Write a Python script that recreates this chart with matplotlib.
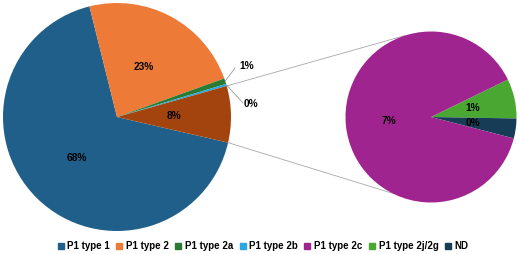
import numpy as np
import matplotlib
matplotlib.use("Agg")
import matplotlib.pyplot as plt
from matplotlib.lines import Line2D

# shares of all samples (%)
main_labels = ["P1 type 1", "P1 type 2", "P1 type 2a", "P1 type 2b"]
main_values = [67.5, 23.4, 0.8, 0.3]
sub_labels = ["P1 type 2j/2g", "ND", "P1 type 2c"]
sub_values = [0.6, 0.3, 7.1]
legend_order = ["P1 type 1", "P1 type 2", "P1 type 2a", "P1 type 2b",
                "P1 type 2c", "P1 type 2j/2g", "ND"]

colors = {"P1 type 1": "#1f5f8a", "P1 type 2": "#ee7a38", "P1 type 2a": "#2a7a33",
          "P1 type 2b": "#2aa7df", "P1 type 2c": "#a0248f", "P1 type 2j/2g": "#4aa832",
          "ND": "#163c56", "other": "#a3440f"}

plt.rcParams["font.family"] = ["Liberation Sans", "DejaVu Sans"]
W, H = 520, 254
fig = plt.figure(figsize=(W / 100, H / 100), dpi=100)
ax = fig.add_axes([0, 0, 1, 1])

c1, r1 = (117, H - 117), 114
c2, r2 = (431, H - 117), 85.5
total = sum(main_values) + sum(sub_values)
pct = lambda v: f"{v / total * 100:.0f}%"
txt = dict(fontsize=7.3, fontweight="bold", color="black")

vals1 = main_values + [sum(sub_values)]
cols1 = [colors[k] for k in main_labels] + [colors["other"]]
w1, _ = ax.pie(vals1, colors=cols1, center=c1, radius=r1, startangle=-13,
               counterclock=False, frame=True)
for i in (0, 1, 4):
    w = w1[i]
    mid = np.deg2rad((w.theta1 + w.theta2) / 2)
    ax.text(c1[0] + 0.5 * r1 * np.cos(mid), c1[1] + 0.5 * r1 * np.sin(mid), pct(vals1[i]),
            ha="center", va="center", **txt)

# leader labels for the tiny slices
small = [(2, (235, H - 68), (239, H - 66)), (3, (243, H - 103), (244, H - 104))]
for i, kink, tpos in small:
    w = w1[i]
    mid = np.deg2rad((w.theta1 + w.theta2) / 2)
    p = (c1[0] + r1 * np.cos(mid), c1[1] + r1 * np.sin(mid))
    ax.plot([p[0], kink[0]], [p[1], kink[1]], color="#9a9a9a", lw=0.6)
    ax.text(tpos[0], tpos[1], pct(vals1[i]), ha="left", va="center", **txt)

w2, _ = ax.pie(sub_values, colors=[colors[k] for k in sub_labels], center=c2,
               radius=r2, startangle=26, counterclock=False, frame=True)
for w, v in zip(w2, sub_values):
    mid = np.deg2rad((w.theta1 + w.theta2) / 2)
    ax.text(c2[0] + 0.5 * r2 * np.cos(mid), c2[1] + 0.5 * r2 * np.sin(mid), pct(v),
            ha="center", va="center", **txt)
ax.set_xlim(0, W); ax.set_ylim(0, H)
ax.set_aspect("equal"); ax.axis("off")

# connector lines from the "other" slice to the second pie
ow = w1[4]
for a1, a2 in [(ow.theta2, 108), (ow.theta1, 243)]:
    p1 = (c1[0] + r1 * np.cos(np.deg2rad(a1)), c1[1] + r1 * np.sin(np.deg2rad(a1)))
    p2 = (c2[0] + r2 * np.cos(np.deg2rad(a2)), c2[1] + r2 * np.sin(np.deg2rad(a2)))
    ax.plot([p1[0], p2[0]], [p1[1], p2[1]], color="#a8a8a8", lw=0.6, zorder=0)

handles = [Line2D([], [], ls="none", marker="s", ms=4, color=colors[k]) for k in legend_order]
fig.legend(handles, legend_order, loc="center", bbox_to_anchor=(0.505, 1 - 246 / H), ncol=7,
           frameon=False, handlelength=0.8, handletextpad=0.3, columnspacing=0.55,
           prop=dict(size=7, weight="bold"))

fig.savefig("out.png", dpi=100)
